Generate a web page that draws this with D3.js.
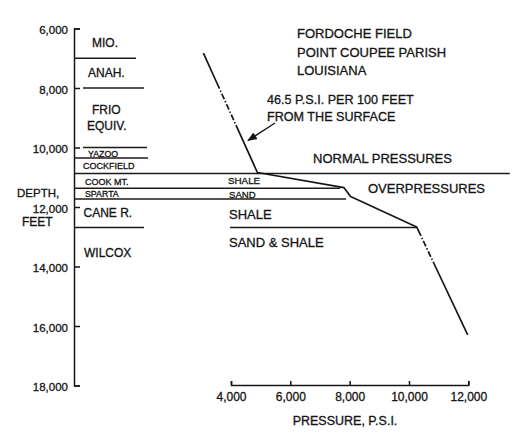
<!DOCTYPE html>
<html><head><meta charset="utf-8">
<script src="https://cdn.jsdelivr.net/npm/d3@7"></script>
<style>
body{margin:0;background:#fff}
svg{display:block;background:#fff}
text{font-family:"Liberation Sans",Arial,sans-serif;fill:#141414;stroke:#141414;stroke-width:0.3px}
</style>
</head><body>
<svg id="c" width="526" height="441"></svg>
<script>
// ---- data ----
const depthTicks = [6000, 8000, 10000, 12000, 14000, 16000, 18000];
const pressureTicks = [4000, 6000, 8000, 10000, 12000];
const formations = ["MIO.", "ANAH.", "FRIO|EQUIV.", "YAZOO", "COCKFIELD", "COOK MT.", "SPARTA", "CANE R.", "WILCOX"];
const boundaryDepths = [7000, 8000, 10000, 10350, 10870, 11370, 11730, 12690];
const boundaryEndPressure = [null, null, null, null, 13400, 7680, 7880, null];
const wilcoxTopPressure = [3970, 10270];
const curveDepth = [6830, 10840, 11350, 11650, 12670, 16300];
const curvePressure = [3070, 4890, 7810, 8030, 10260, 11980];
const lithology = ["SHALE", "SAND", "SHALE", "SAND & SHALE"];
const titleLines = ["FORDOCHE FIELD", "POINT COUPEE PARISH", "LOUISIANA"];
const gradientNote = ["46.5 P.S.I. PER 100 FEET", "FROM THE SURFACE"];

// ---- layout ----
const svg = d3.select("#c");
const ink = "#161616";
const axisX = 74, axisY = 385;
const y = d3.scaleLinear().domain([6000, 18000]).range([28.5, 385.5]);
const x = d3.scaleLinear().domain([4000, 12000]).range([231, 468.3]);
const fam = "Liberation Sans, Arial, sans-serif";

// depth axis
const gy = svg.append("g").attr("transform", `translate(${axisX},0)`)
  .call(d3.axisLeft(y).tickValues(depthTicks).tickFormat(d3.format(","))
    .tickSizeInner(-6).tickSizeOuter(-6).tickPadding(6));
gy.attr("font-size", 11.5).attr("font-family", fam);
gy.selectAll("path,line").attr("stroke", ink).attr("stroke-width", 1.5);
gy.selectAll("text").attr("fill", ink).attr("dy", "0.45em");

// pressure axis
const gx = svg.append("g").attr("transform", `translate(0,${axisY})`)
  .call(d3.axisBottom(x).tickValues(pressureTicks).tickFormat(d3.format(","))
    .tickSizeInner(-4).tickSizeOuter(-4).tickPadding(7));
gx.attr("font-size", 12).attr("font-family", fam);
gx.selectAll("path,line").attr("stroke", ink).attr("stroke-width", 1.5);
gx.selectAll("text").attr("fill", ink);

// formation boundaries
const colEnd = [136, 144, 147, 148, 145, 145, 145, 144];
const colStart = [axisX, 83, 83, axisX, axisX, axisX, axisX, axisX];
svg.append("g").selectAll("line").data(boundaryDepths).join("line")
  .attr("x1", (d, i) => colStart[i])
  .attr("x2", (d, i) => boundaryEndPressure[i] == null ? colEnd[i] : x(boundaryEndPressure[i]))
  .attr("y1", d => y(d)).attr("y2", d => y(d))
  .attr("stroke", "#1e1a16").attr("stroke-width", 1.5);
svg.append("line")
  .attr("x1", x(wilcoxTopPressure[0])).attr("x2", x(wilcoxTopPressure[1]))
  .attr("y1", y(boundaryDepths[7])).attr("y2", y(boundaryDepths[7]))
  .attr("stroke", "#1e1a16").attr("stroke-width", 1.4);

// pressure curve (dash-dot printed stretches on the two steep legs)
const pts = curveDepth.map((d, i) => [x(curvePressure[i]), y(d)]);
const segLen = pts.slice(1).map((p, i) => Math.hypot(p[0] - pts[i][0], p[1] - pts[i][1]));
const total = d3.sum(segLen);
function dashRun(len) { const a = []; let s = 0; while (s + 11 <= len) { a.push(6, 2, 1.5, 2); s += 11.5; } return [a, s]; }
const dash = [];
let acc = 0;
dash.push(33, 0); acc += 33;
let [r1, l1] = dashRun(55); dash.push(...r1); acc += l1;
const lowerStart = d3.sum(segLen.slice(0, 4)) + 4;
dash.push(lowerStart - acc, 0); acc = lowerStart;
let [r2, l2] = dashRun(40); dash.push(...r2); acc += l2;
dash.push(total - acc + 10, 0);
svg.append("path").attr("d", d3.line()(pts))
  .attr("fill", "none").attr("stroke", ink).attr("stroke-width", 1.7)
  .attr("stroke-linejoin", "round")
  .attr("stroke-dasharray", dash.join(","));

// formation labels
const fPos = [
  [92, 46.5, 12], [88, 77, 12], [92, 114, 12], [88, 156.5, 8.8], [83, 169, 9],
  [85, 185, 9], [85, 196.5, 8.8], [83.5, 217, 12], [84, 257, 12]
];
formations.forEach((f, i) => {
  const [tx, ty, fs] = fPos[i];
  f.split("|").forEach((p, k) => {
    svg.append("text").attr("x", k === 0 ? tx : tx - 5).attr("y", ty + k * 16)
      .attr("font-size", fs).text(p);
  });
});

// axis titles
svg.append("text").attr("x", 17).attr("y", 196.5).attr("font-size", 11.5).text("DEPTH,");
svg.append("text").attr("x", 22).attr("y", 226).attr("font-size", 12).text("FEET");
svg.append("text").attr("x", 345).attr("y", 425).attr("font-size", 12.5)
  .attr("text-anchor", "middle").text("PRESSURE, P.S.I.");

// title
titleLines.forEach((t, i) => {
  svg.append("text").attr("x", 297).attr("y", 38 + i * 18.5).attr("font-size", 13).text(t);
});

// gradient note + arrow
gradientNote.forEach((t, i) => {
  svg.append("text").attr("x", 267).attr("y", 104 + i * 16.5).attr("font-size", 12.6).text(t);
});
svg.append("defs").append("marker").attr("id", "ah").attr("viewBox", "0 0 10 10")
  .attr("refX", 9).attr("refY", 5).attr("markerWidth", 7).attr("markerHeight", 7)
  .attr("orient", "auto").append("path").attr("d", "M0,1 L10,5 L0,9 Z").attr("fill", ink);
svg.append("line").attr("x1", 275).attr("y1", 123).attr("x2", 248).attr("y2", 140.5)
  .attr("stroke", ink).attr("stroke-width", 1.4).attr("marker-end", "url(#ah)");

// zone labels
svg.append("text").attr("x", 313).attr("y", 163).attr("font-size", 13).text("NORMAL PRESSURES");
svg.append("text").attr("x", 368).attr("y", 193).attr("font-size", 13).text("OVERPRESSURES");

// lithology labels
const lPos = [[228, 184, 9.8], [229, 197.5, 9.6], [229, 219, 13], [229, 247, 13]];
lithology.forEach((t, i) => {
  svg.append("text").attr("x", lPos[i][0]).attr("y", lPos[i][1]).attr("font-size", lPos[i][2]).text(t);
});
</script>
</body></html>
